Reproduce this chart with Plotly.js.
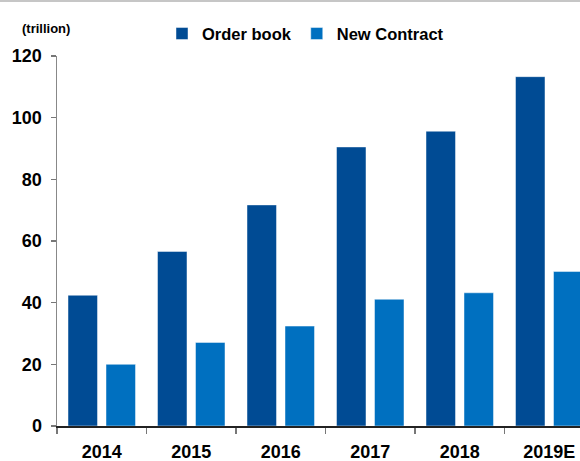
<!DOCTYPE html>
<html>
<head>
<meta charset="utf-8">
<script src="https://cdn.plot.ly/plotly-3.0.1.min.js"></script>
<style>
  html, body { margin: 0; padding: 0; overflow: hidden; background: #fff; width: 580px; height: 461px; }
  #topline { position: absolute; left: 0; top: 0; width: 580px; height: 2px; background: #c6c6c6; z-index: 10; }
  #chart { position: absolute; left: 0; top: 0; width: 600px; height: 461px; }
</style>
</head>
<body>
<div id="topline"></div>
<div id="chart"></div>
<script>
const years = ["2014", "2015", "2016", "2017", "2018", "2019E"];
const orderBook = [42.4, 56.6, 71.7, 90.5, 95.6, 113.3];
const newContract = [20.0, 27.1, 32.4, 41.1, 43.2, 50.1];
const unitLabel = "(trillion)";
const yTicks = [0, 20, 40, 60, 80, 100, 120];

const fontFam = "Liberation Sans, Arial, sans-serif";

const traces = [
  {
    type: "bar", name: "Order book", x: years, y: orderBook,
    marker: { color: "#004b94", line: { color: "rgba(255,255,255,0.45)", width: 1 } },
    hoverinfo: "x+y+name"
  },
  {
    type: "bar", name: "New Contract", x: years, y: newContract,
    marker: { color: "#0070c0", line: { color: "rgba(255,255,255,0.45)", width: 1 } },
    hoverinfo: "x+y+name"
  }
];

const layout = {
  width: 600, height: 461,
  margin: { l: 57, r: 6, t: 56, b: 35 },
  paper_bgcolor: "#ffffff", plot_bgcolor: "#ffffff",
  font: { family: fontFam, color: "#000", size: 16 },
  barmode: "group",
  bargap: 0.151,
  bargroupgap: 0.224,
  showlegend: true,
  legend: {
    orientation: "h", x: (162 - 57) / 537, xanchor: "left", y: 1.06, yanchor: "middle",
    font: { family: fontFam, size: 16.5, weight: 700, color: "#000" },
    bgcolor: "rgba(0,0,0,0)", itemclick: false, itemdoubleclick: false
  },
  xaxis: {
    type: "category",
    showline: true, linecolor: "#222", linewidth: 1.5,
    ticks: "outside", tickson: "boundaries", ticklen: 6, tickcolor: "#777", tickwidth: 1.5,
    tickfont: { family: fontFam, size: 18, weight: 700, color: "#000" },
    ticklabelstandoff: 9,
    showgrid: false, zeroline: false, fixedrange: true
  },
  yaxis: {
    range: [0, 120], tickvals: yTicks, ticktext: yTicks.map(String),
    showline: true, linecolor: "#888", linewidth: 1.5,
    ticks: "outside", ticklen: 5, tickcolor: "#777", tickwidth: 1.5,
    tickfont: { family: fontFam, size: 18, weight: 700, color: "#000" },
    ticklabelstandoff: 5,
    showgrid: false, zeroline: false, fixedrange: true
  },
  annotations: [
    {
      text: unitLabel, xref: "paper", yref: "paper",
      x: (46 - 57) / 537, y: (426 - 28) / 370, xanchor: "center", yanchor: "middle",
      showarrow: false, font: { family: fontFam, size: 13, weight: 700, color: "#000" }
    }
  ]
};

Plotly.newPlot("chart", traces, layout, { displayModeBar: false, staticPlot: true });
</script>
</body>
</html>
